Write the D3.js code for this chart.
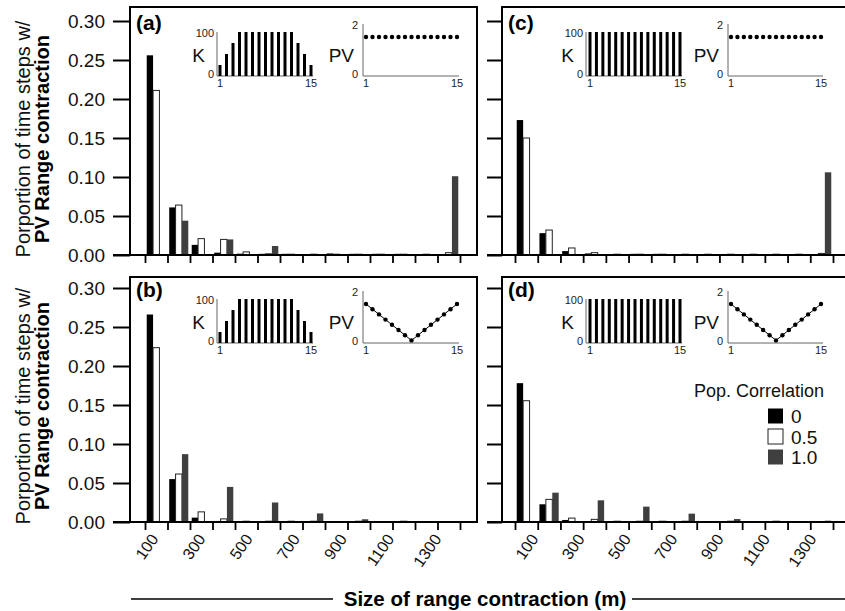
<!DOCTYPE html>
<html>
<head>
<meta charset="utf-8">
<script src="https://cdn.jsdelivr.net/npm/d3@7/dist/d3.min.js"></script>
<style>
  body { margin: 0; background: #fff; }
  svg { font-family: "Liberation Sans", Arial, sans-serif; }
</style>
</head>
<body>
<div id="chart"></div>
<script>
// Size classes of range contraction (m)
const sizes = [100, 200, 300, 400, 500, 600, 700, 800, 900, 1000, 1100, 1200, 1300, 1400];
const sizeLabels = [100, 300, 500, 700, 900, 1100, 1300];
const correlations = ["0", "0.5", "1.0"];
const yTicks = [0, 0.05, 0.10, 0.15, 0.20, 0.25, 0.30];

// Proportion of time steps, one array per population correlation
const a_r0  = [0.256, 0.061, 0.013, 0.003, 0.0017, 0.0015, 0.0015, 0, 0.002, 0.0015, 0.0015, 0.0015, 0, 0];
const a_r05 = [0.211, 0.064, 0.021, 0.020, 0.004, 0.0015, 0.001, 0.001, 0.001, 0.001, 0.001, 0.001, 0.001, 0.003];
const a_r10 = [0, 0.044, 0, 0.020, 0.001, 0.0115, 0, 0, 0, 0, 0, 0, 0, 0.101];

const b_r0  = [0.266, 0.055, 0.0056, 0.001, 0.001, 0, 0, 0.001, 0, 0, 0, 0, 0, 0];
const b_r05 = [0.2235, 0.0615, 0.013, 0.004, 0.001, 0.001, 0.001, 0.001, 0, 0.001, 0, 0.001, 0, 0];
const b_r10 = [0, 0.087, 0, 0.045, 0, 0.025, 0, 0.011, 0, 0.0035, 0, 0.001, 0, 0];

const c_r0  = [0.173, 0.028, 0.005, 0.002, 0.001, 0.0015, 0.0015, 0, 0, 0, 0, 0, 0, 0];
const c_r05 = [0.150, 0.032, 0.009, 0.003, 0.001, 0.001, 0.001, 0.001, 0.001, 0.001, 0.001, 0.001, 0.001, 0.002];
const c_r10 = [0, 0, 0, 0, 0, 0, 0, 0, 0, 0, 0, 0, 0, 0.106];

const d_r0  = [0.178, 0.0227, 0.0026, 0.001, 0.001, 0.001, 0, 0.001, 0, 0, 0, 0, 0, 0];
const d_r05 = [0.1555, 0.029, 0.005, 0.0034, 0.001, 0.001, 0.001, 0.001, 0, 0.001, 0, 0.001, 0, 0];
const d_r10 = [0, 0.0376, 0, 0.0278, 0, 0.0197, 0, 0.0107, 0, 0.0038, 0, 0.001, 0, 0.0017];

// Inset scenarios: carrying capacity K and PV along 15 patches
const steps = [1, 2, 3, 4, 5, 6, 7, 8, 9, 10, 11, 12, 13, 14, 15];
const kTapered = [25, 50, 75, 100, 100, 100, 100, 100, 100, 100, 100, 100, 75, 50, 25];
const kFull = [100, 100, 100, 100, 100, 100, 100, 100, 100, 100, 100, 100, 100, 100, 100];
const pvFlat = [1.5, 1.5, 1.5, 1.5, 1.5, 1.5, 1.5, 1.5, 1.5, 1.5, 1.5, 1.5, 1.5, 1.5, 1.5];
const pvVee = [1.5, 1.3, 1.1, 0.9, 0.7, 0.5, 0.3, 0.1, 0.3, 0.5, 0.7, 0.9, 1.1, 1.3, 1.5];

const fills = ["#000", "#fff", "#3f3f3f"];
const strokes = ["none", "#222", "none"];
const ink = "#111";

// Page layout
const cols = [
  { x0: 145, x1: 460, boxL: 130, boxR: 477, lineL: 113, labels: [159, 442],
    kAxis: 217, kRange: [220, 311], pvAxis: 363, pvRange: [366, 457] },
  { x0: 515, x1: 833, boxL: 502, boxR: 852, lineL: 487, labels: [539, 817],
    kAxis: 586, kRange: [590, 680], pvAxis: 728, pvRange: [731, 821] }
];
const rows = [
  { y0: 255, top: 7 },
  { y0: 522, top: 277 }
];

const panels = [
  { tag: "(a)", col: 0, row: 0, values: [a_r0, a_r05, a_r10], k: kTapered, pv: pvFlat, pvLine: false },
  { tag: "(b)", col: 0, row: 1, values: [b_r0, b_r05, b_r10], k: kTapered, pv: pvVee, pvLine: true },
  { tag: "(c)", col: 1, row: 0, values: [c_r0, c_r05, c_r10], k: kFull, pv: pvFlat, pvLine: false },
  { tag: "(d)", col: 1, row: 1, values: [d_r0, d_r05, d_r10], k: kFull, pv: pvVee, pvLine: true }
];

const svg = d3.select("#chart")
  .append("svg")
  .attr("width", 845)
  .attr("height", 611);

svg.append("rect").attr("width", 845).attr("height", 611).attr("fill", "#fff");

function smallText(g, x, y, anchor, txt) {
  g.append("text")
    .attr("x", x).attr("y", y)
    .attr("text-anchor", anchor)
    .attr("font-size", 11)
    .attr("fill", "#222")
    .text(txt);
}

function drawPanel(p) {
  const c = cols[p.col], r = rows[p.row];
  const g = svg.append("g");

  const x = d3.scaleBand().domain(sizes).range([c.x0, c.x1]);
  const xs = d3.scaleBand().domain(correlations).range([0, x.bandwidth()]).paddingOuter(0.27);
  const edge = d3.scaleLinear().domain([0, sizes.length]).range([c.x0, c.x1]);
  const y = d3.scaleLinear().domain([0, 0.3]).range([r.y0, r.y0 - 234]);

  // bars
  correlations.forEach((s, j) => {
    const rowsData = sizes.map((sz, i) => ({ size: sz, v: p.values[j][i] })).filter(d => d.v > 0);
    g.selectAll(null)
      .data(rowsData)
      .enter()
      .append("rect")
      .attr("x", d => x(d.size) + xs(s))
      .attr("y", d => y(d.v))
      .attr("width", xs.bandwidth())
      .attr("height", d => y(0) - y(d.v))
      .attr("fill", fills[j])
      .attr("stroke", strokes[j])
      .attr("stroke-width", 1);
  });

  // frame and zero line
  g.append("rect")
    .attr("x", c.boxL)
    .attr("y", r.top)
    .attr("width", c.boxR - c.boxL)
    .attr("height", r.y0 - r.top)
    .attr("fill", "none")
    .attr("stroke", "#000")
    .attr("stroke-width", 2);
  g.append("line")
    .attr("x1", c.lineL).attr("x2", c.boxR)
    .attr("y1", r.y0).attr("y2", r.y0)
    .attr("stroke", "#000").attr("stroke-width", 2);

  // y axis
  const yAxis = g.append("g")
    .attr("transform", `translate(${c.boxL},0)`)
    .call(d3.axisLeft(y)
      .tickValues(yTicks)
      .tickSize(c.boxL - c.lineL)
      .tickPadding(8)
      .tickFormat(p.col === 0 ? d3.format(".2f") : () => ""));
  yAxis.select(".domain").remove();
  yAxis.selectAll("line").attr("stroke-width", 2);
  yAxis.selectAll("text").attr("font-size", 19).attr("font-family", "Liberation Sans, Arial, sans-serif").attr("fill", ink);

  // x axis ticks at class edges
  const xAxis = g.append("g")
    .attr("transform", `translate(0,${r.y0})`)
    .call(d3.axisBottom(edge)
      .tickValues(d3.range(sizes.length + 1))
      .tickSize(8)
      .tickFormat(() => ""));
  xAxis.select(".domain").remove();
  xAxis.selectAll("line").attr("stroke-width", 1.8);

  // rotated size labels on the bottom row
  if (p.row === 1) {
    const lx = d3.scaleLinear().domain([100, 1300]).range(c.labels);
    g.selectAll(null)
      .data(sizeLabels)
      .enter()
      .append("text")
      .attr("transform", d => `translate(${lx(d)},${r.y0 + 17}) rotate(-55)`)
      .attr("text-anchor", "end")
      .attr("font-size", 16)
      .attr("fill", ink)
      .text(d => d);
  }

  // panel tag
  g.append("text")
    .attr("x", c.boxL + 6)
    .attr("y", r.y0 - 225)
    .attr("font-size", 21)
    .attr("font-weight", "bold")
    .text(p.tag);

  // inset: carrying capacity K
  const kx = d3.scalePoint().domain(steps).range(c.kRange);
  const ky = d3.scaleLinear().domain([0, 100]).range([r.y0 - 179, r.y0 - 223]);
  g.append("path")
    .attr("d", `M${c.kAxis},${ky(100)}V${ky(0)}H${c.kRange[1] + 2}`)
    .attr("fill", "none").attr("stroke", "#666").attr("stroke-width", 1);
  g.selectAll(null)
    .data(steps.map((s, i) => ({ s, v: p.k[i] })))
    .enter()
    .append("rect")
    .attr("x", d => kx(d.s) - 1.5)
    .attr("y", d => ky(d.v))
    .attr("width", 3)
    .attr("height", d => ky(0) - ky(d.v))
    .attr("fill", "#000");
  smallText(g, c.kAxis - 3, ky(100) + 5, "end", "100");
  smallText(g, c.kAxis - 3, ky(0) + 2, "end", "0");
  smallText(g, kx(1), ky(0) + 11, "middle", "1");
  smallText(g, kx(15), ky(0) + 11, "middle", "15");
  g.append("text").attr("x", c.kAxis - 12).attr("y", r.y0 - 193).attr("text-anchor", "end")
    .attr("font-size", 19).attr("fill", ink).text("K");

  // inset: PV
  const px = d3.scalePoint().domain(steps).range(c.pvRange);
  const py = d3.scaleLinear().domain([0, 2]).range([r.y0 - 179, r.y0 - 231]);
  g.append("path")
    .attr("d", `M${c.pvAxis},${py(2)}V${py(0)}H${c.pvRange[1] + 2}`)
    .attr("fill", "none").attr("stroke", "#666").attr("stroke-width", 1);
  const pvData = steps.map((s, i) => ({ s, v: p.pv[i] }));
  if (p.pvLine) {
    g.append("path")
      .datum(pvData)
      .attr("d", d3.line().x(d => px(d.s)).y(d => py(d.v)))
      .attr("fill", "none").attr("stroke", "#000").attr("stroke-width", 1);
  }
  g.selectAll(null)
    .data(pvData)
    .enter()
    .append("circle")
    .attr("cx", d => px(d.s))
    .attr("cy", d => py(d.v))
    .attr("r", 2.2)
    .attr("fill", "#000");
  smallText(g, c.pvAxis - 5, py(2) + 5, "end", "2");
  smallText(g, c.pvAxis - 5, py(0) + 2, "end", "0");
  smallText(g, px(1), py(0) + 11, "middle", "1");
  smallText(g, px(15), py(0) + 11, "middle", "15");
  g.append("text").attr("x", c.pvAxis - 9).attr("y", r.y0 - 193).attr("text-anchor", "end")
    .attr("font-size", 19).attr("fill", ink).text("PV");
}

panels.forEach(drawPanel);

// y axis titles, one per row
rows.forEach(r => {
  const cy = r.y0 - 116;
  svg.append("text")
    .attr("transform", `translate(30,${cy}) rotate(-90)`)
    .attr("text-anchor", "middle")
    .attr("font-size", 20)
    .attr("fill", ink)
    .text("Porportion of time steps w/");
  svg.append("text")
    .attr("transform", `translate(49,${cy}) rotate(-90)`)
    .attr("text-anchor", "middle")
    .attr("font-size", 20)
    .attr("font-weight", "bold")
    .text("PV Range contraction");
});

// shared x axis title with rules either side
svg.append("text")
  .attr("x", 485)
  .attr("y", 606)
  .attr("text-anchor", "middle")
  .attr("font-size", 20.5)
  .attr("font-weight", "bold")
  .text("Size of range contraction (m)");
svg.append("line").attr("x1", 131).attr("x2", 333).attr("y1", 599).attr("y2", 599).attr("stroke", "#000").attr("stroke-width", 1.5);
svg.append("line").attr("x1", 632).attr("x2", 845).attr("y1", 599).attr("y2", 599).attr("stroke", "#000").attr("stroke-width", 1.5);

// legend in panel (d)
const legend = svg.append("g");
legend.append("text")
  .attr("x", 694)
  .attr("y", 397)
  .attr("font-size", 18)
  .attr("fill", ink)
  .text("Pop. Correlation");
correlations.forEach((s, j) => {
  const cy = 416 + j * 20.5;
  legend.append("rect")
    .attr("x", 768).attr("y", cy - 7.5)
    .attr("width", 15).attr("height", 15)
    .attr("fill", fills[j])
    .attr("stroke", j === 1 ? "#222" : "none")
    .attr("stroke-width", 1);
  legend.append("text")
    .attr("x", 791).attr("y", cy + 7)
    .attr("font-size", 19)
    .attr("fill", ink)
    .text(s);
});
</script>
</body>
</html>
